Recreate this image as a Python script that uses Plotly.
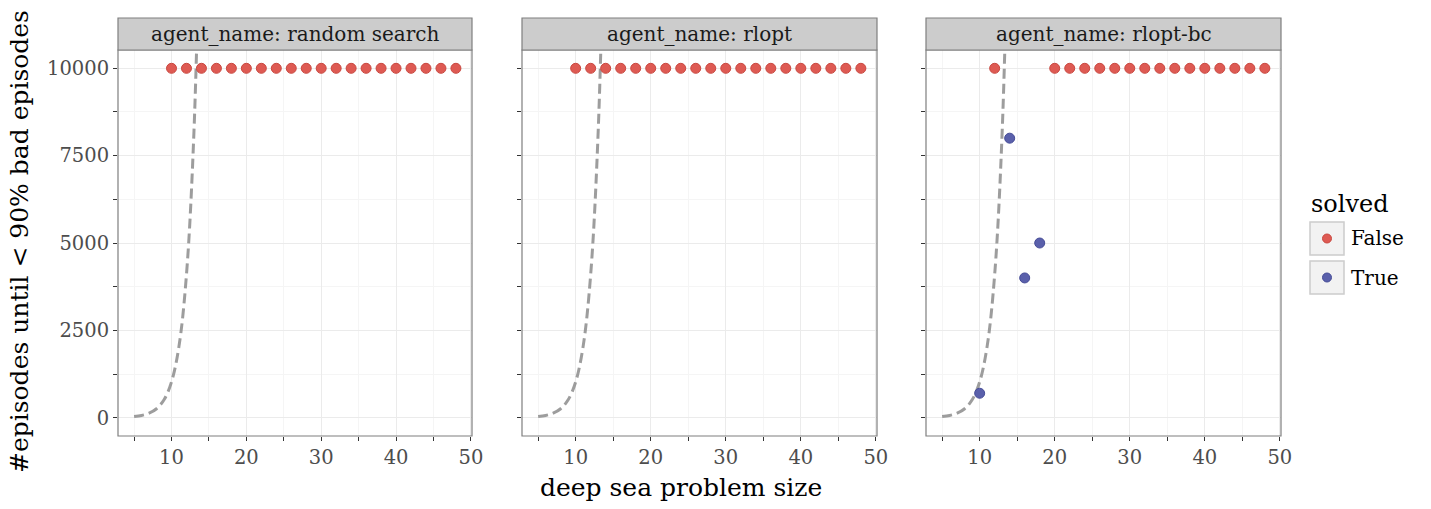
import plotly.graph_objects as go

# ---------------- data ----------------
agents = ["random search", "rlopt", "rlopt-bc"]

sizes_all = [10, 12, 14, 16, 18, 20, 22, 24, 26, 28, 30, 32, 34, 36, 38, 40, 42, 44, 46, 48]
episodes_all = [10000] * 20

rs_false_x = sizes_all
rs_false_y = episodes_all
rl_false_x = sizes_all
rl_false_y = episodes_all

bc_false_x = [12, 20, 22, 24, 26, 28, 30, 32, 34, 36, 38, 40, 42, 44, 46, 48]
bc_false_y = [10000] * 16
bc_true_x = [10, 14, 16, 18]
bc_true_y = [700, 8000, 4000, 5000]

# dashed reference curve
curve_x = [5, 6, 7, 8, 9, 10, 11, 12, 13, 14]
curve_y = [32, 64, 128, 256, 512, 1024, 2048, 4096, 8192, 16384]

x_ticks = [10, 20, 30, 40, 50]
y_ticks = [0, 2500, 5000, 7500, 10000]
y_tick_text = ["0", "2500", "5000", "7500", "10000"]

# ---------------- layout helpers ----------------
W, H = 1431, 509
FONT = "DejaVu Serif"
RED = "#DE5A53"
RED_EDGE = "#C94840"
BLUE = "#5A60AB"
BLUE_EDGE = "#464C97"


def px(x):
    return x / W


def py(y):
    return 1 - y / H


panels = [(118, 472), (522, 877), (926, 1281)]
PT, PB = 50, 436  # panel top/bottom in window px
ST = 18  # strip top

fig = go.Figure()

series = [
    [(rs_false_x, rs_false_y, RED, RED_EDGE)],
    [(rl_false_x, rl_false_y, RED, RED_EDGE)],
    [(bc_false_x, bc_false_y, RED, RED_EDGE), (bc_true_x, bc_true_y, BLUE, BLUE_EDGE)],
]

for i, (x0, x1) in enumerate(panels):
    suffix = "" if i == 0 else str(i + 1)
    xa, ya = "x" + suffix, "y" + suffix
    fig.add_trace(go.Scatter(
        x=curve_x, y=curve_y, mode="lines", xaxis=xa, yaxis=ya,
        line=dict(color="rgba(140,140,140,0.85)", width=3, dash="10px,5px", shape="spline"),
        showlegend=False, hoverinfo="skip"))
    for sx, sy, c, e in series[i]:
        fig.add_trace(go.Scatter(
            x=sx, y=sy, mode="markers", xaxis=xa, yaxis=ya,
            marker=dict(color=c, size=10, line=dict(color=e, width=1)),
            showlegend=False, cliponaxis=False))

    common_grid = dict(showgrid=True, gridcolor="#EBEBEB", gridwidth=1.2,
                       zeroline=False, showline=False, automargin=False,
                       ticks="outside", ticklen=4, tickcolor="#333333", tickwidth=1,
                       tickfont=dict(family=FONT, size=19.5, color="#4D4D4D"))
    fig.layout["xaxis" + suffix] = dict(
        domain=[px(x0), px(x1)], anchor=ya, range=[2.85, 50.15],
        tickmode="array", tickvals=x_ticks,
        minor=dict(ticks="outside", ticklen=4, tickcolor="#333333", dtick=5, tick0=0,
                   showgrid=True, gridcolor="#F5F5F5", gridwidth=0.6),
        **common_grid)
    fig.layout["yaxis" + suffix] = dict(
        domain=[py(PB), py(PT)], anchor=xa, range=[-524, 10524],
        tickmode="array", tickvals=y_ticks, ticktext=y_tick_text,
        showticklabels=(i == 0),
        minor=dict(ticks="outside", ticklen=4, tickcolor="#333333", dtick=1250, tick0=0,
                   showgrid=True, gridcolor="#F5F5F5", gridwidth=0.6),
        **common_grid)

    # panel border
    fig.add_shape(type="rect", xref="paper", yref="paper",
                  x0=px(x0), x1=px(x1), y0=py(PB), y1=py(PT),
                  line=dict(color="#7F7F7F", width=1.2), fillcolor="rgba(0,0,0,0)", layer="above")
    # strip
    fig.add_shape(type="rect", xref="paper", yref="paper",
                  x0=px(x0), x1=px(x1), y0=py(PT), y1=py(ST),
                  line=dict(color="#7F7F7F", width=1.2), fillcolor="#CCCCCC", layer="above")
    fig.add_annotation(text="agent_name: " + agents[i], xref="paper", yref="paper",
                       x=px((x0 + x1) / 2), y=py((PT + ST) / 2), showarrow=False,
                       xanchor="center", yanchor="middle",
                       font=dict(family=FONT, size=20, color="#1A1A1A"))

# axis titles
fig.add_annotation(text="deep sea problem size", xref="paper", yref="paper",
                   x=px(681), y=py(487), showarrow=False, xanchor="center", yanchor="middle",
                   font=dict(family=FONT, size=25, color="#000000"))
fig.add_annotation(text="#episodes until < 90% bad episodes", xref="paper", yref="paper",
                   x=px(20), y=py(242), showarrow=False, xanchor="center", yanchor="middle",
                   textangle=-90, font=dict(family=FONT, size=25, color="#000000"))

# legend (drawn manually, plotnine style)
fig.add_annotation(text="solved", xref="paper", yref="paper", x=px(1309), y=py(204),
                   showarrow=False, xanchor="left", yanchor="middle",
                   font=dict(family=FONT, size=24, color="#000000"))
for j, (lab, c, e) in enumerate([("False", RED, RED_EDGE), ("True", BLUE, BLUE_EDGE)]):
    top = 222 + j * 39
    fig.add_shape(type="rect", xref="paper", yref="paper",
                  x0=px(1310), x1=px(1344), y0=py(top + 33), y1=py(top),
                  line=dict(color="#CCCCCC", width=1.5), fillcolor="#F2F2F2")
    cy = top + 16.5
    fig.add_shape(type="circle", xref="paper", yref="paper",
                  x0=px(1327 - 4.5), x1=px(1327 + 4.5), y0=py(cy + 4.5), y1=py(cy - 4.5),
                  line=dict(color=e, width=1), fillcolor=c)
    fig.add_annotation(text=lab, xref="paper", yref="paper", x=px(1349), y=py(cy),
                       showarrow=False, xanchor="left", yanchor="middle",
                       font=dict(family=FONT, size=20, color="#000000"))

fig.update_layout(
    width=W, height=H, margin=dict(l=0, r=0, t=0, b=0, autoexpand=False),
    paper_bgcolor="white", plot_bgcolor="white", showlegend=False,
    font=dict(family=FONT),
)

fig.write_html(
    "out.html",
    post_script="document.body.style.margin='0px';document.body.style.overflow='hidden';",
    config={"displayModeBar": False},
)
